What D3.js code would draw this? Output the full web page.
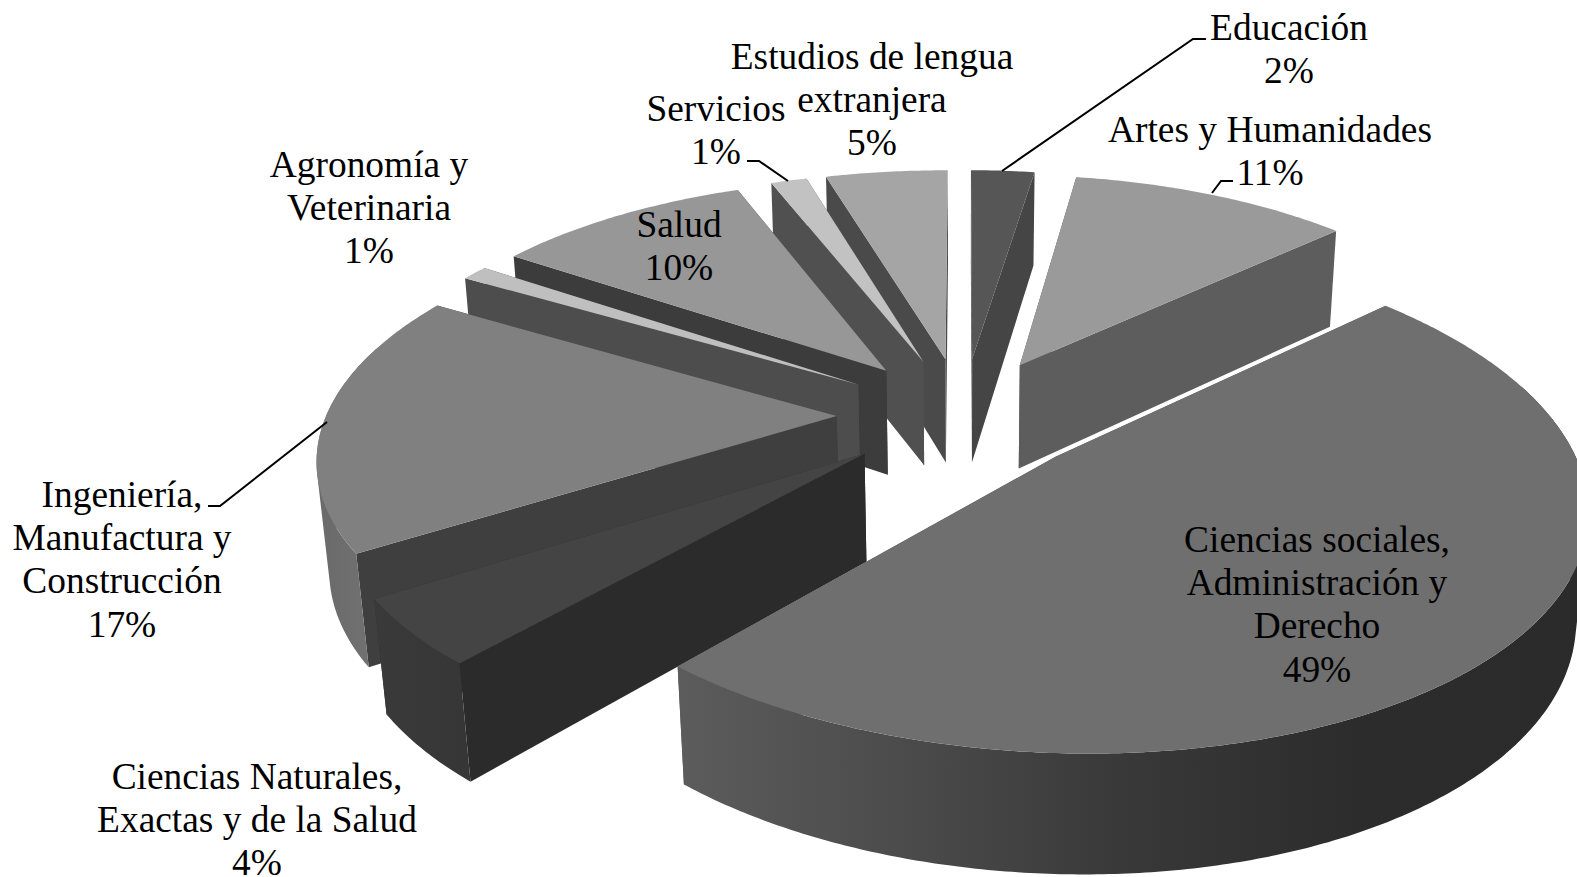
<!DOCTYPE html>
<html>
<head>
    <title>Distribución por campo de estudio</title>
    <meta charset="utf-8">
    <style>
        html, body { margin: 0; padding: 0; background: #fff; overflow: hidden; }
        svg { display: block; }
        .label { font-family: "Liberation Serif", serif; font-size: 37.4px; fill: #000; text-anchor: middle; }
        .leader { fill: none; stroke: #000; stroke-width: 2px; }
    </style>
    <script src="https://d3js.org/d3.v7.min.js"></script>
</head>
<body>
<script>
    // data, clockwise from 12 o'clock (shares, labels show them rounded)
    var categories = ["Educación", "Artes y Humanidades", "Ciencias sociales, Administración y Derecho",
        "Ciencias Naturales, Exactas y de la Salud", "Ingeniería, Manufactura y Construcción",
        "Agronomía y Veterinaria", "Salud", "Servicios", "Estudios de lengua extranjera"];
    var values = [2.4, 10.65, 48.5, 4.45, 17.42, 1, 9.63, 1.35, 4.6];

    // label text, one array per slice
    var labelLines = [
        ["Educación", "2%"],
        ["Artes y Humanidades", "11%"],
        ["Ciencias sociales,", "Administración y", "Derecho", "49%"],
        ["Ciencias Naturales,", "Exactas y de la Salud", "4%"],
        ["Ingeniería,", "Manufactura y", "Construcción", "17%"],
        ["Agronomía y", "Veterinaria", "1%"],
        ["Salud", "10%"],
        ["Servicios", "1%"],
        ["Estudios de lengua", "extranjera", "5%"]
    ];
    var labelX = [1289, 1270, 1317, 257, 122, 369, 679, 716, 872];
    var labelY = [40, 142, 552, 789, 507, 177, 237, 121, 69];

    // greys
    var topColors = ["#565656", "#9a9a9a", "#6f6f6f", "#444444", "#808080", "#bfbfbf", "#979797", "#c2c2c2", "#a5a5a5"];
    var startCutColors = ["#454545", "#5c5c5c", "#5c5c5c", "#2b2b2b", "#3f3f3f", "#4d4d4d", "#3c3c3c", "#505050", "#4a4a4a"];
    var endCutColors = ["#454545", "#5d5d5d", "#5c5c5c", "#2b2b2b", "#3f3f3f", "#4d4d4d", "#3c3c3c", "#505050", "#4a4a4a"];
    // wall shade, left to right on the screen
    var wallStops = [
        ["#444444", "#444444"],
        ["#666666", "#666666"],
        ["#5c5c5c", "#4b4b4b", "#383838", "#2c2c2c", "#2b2b2b"],
        ["#3a3a3a", "#363636"],
        ["#6a6a6a", "#737373"],
        ["#666666", "#666666"],
        ["#666666", "#666666"],
        ["#666666", "#666666"],
        ["#666666", "#666666"]
    ];
    // the big slice sits closer to the camera and its rim swells a little
    var rimBulge = [0, 0, 0.035, 0, 0, 0, 0, 0, 0];

    var width = 1577, height = 877;

    // camera for the tilted pie (radius 1, top face at z=0), yaw is a small sideways turn
    var cx = 963, cy = 415, focal = 2937, dist = 5.83, tiltSin = 0.463, tiltCos = 0.886, yaw = 0.05;
    var explode = 0.25, thick = 0.242;

    function project(X, Y, Z) {
        var w = dist + Y * tiltCos - Z * tiltSin + yaw * X;
        return [cx + focal * X / w, cy - focal * (Y * tiltSin + Z * tiltCos) / w];
    }

    var pie = d3.pie().sort(null).startAngle(0).endAngle(2 * Math.PI);
    var arcs = pie(values);

    var svg = d3.select("body").append("svg")
        .attr("width", width)
        .attr("height", height);
    var defs = svg.append("defs");

    var poly = d3.line().curve(d3.curveLinearClosed);

    // back slices get painted first
    var order = d3.range(arcs.length).sort(function(a, b) {
        var ma = (arcs[a].startAngle + arcs[a].endAngle) / 2, mb = (arcs[b].startAngle + arcs[b].endAngle) / 2;
        return Math.cos(mb) - Math.cos(ma);
    });

    order.forEach(function(i) {
        var a = arcs[i];
        var mid = (a.startAngle + a.endAngle) / 2;
        var span = a.endAngle - a.startAngle;
        var ox = explode * Math.sin(mid), oy = explode * Math.cos(mid);
        var g = svg.append("g").attr("class", "slice");

        function rim(t, z) {
            var s = Math.sin(Math.PI * (t - a.startAngle) / span);
            var r = 1 + rimBulge[i] * s * s;
            return project(ox + r * Math.sin(t), oy + r * Math.cos(t), z);
        }

        // cut faces
        [[a.startAngle, startCutColors[i]], [a.endAngle, endCutColors[i]]].forEach(function(c) {
            g.append("path")
                .attr("d", poly([project(ox, oy, 0), rim(c[0], 0), rim(c[0], -thick), project(ox, oy, -thick)]))
                .attr("fill", c[1]);
        });

        var n = Math.max(2, Math.ceil(span / 0.01));
        var angles = d3.range(n + 1).map(function(k) { return a.startAngle + span * k / n; });

        // outer wall, only the part turned towards the viewer
        // one path of many quads, all wound the same way, so no seams and a true silhouette
        var front = angles.filter(function(t) { return Math.cos(t) < 0.3; });
        if (front.length > 1) {
            var d = "", xs = [];
            d3.pairs(front).forEach(function(p) {
                var quad = [rim(p[0], 0), rim(p[1], 0), rim(p[1], -thick), rim(p[0], -thick)];
                if (d3.polygonArea(quad) < 0) quad.reverse();
                d += poly(quad);
                quad.forEach(function(q) { xs.push(q[0]); });
            });
            var ext = d3.extent(xs);
            var stops = wallStops[i];
            var grad = defs.append("linearGradient")
                .attr("id", "wall" + i)
                .attr("gradientUnits", "userSpaceOnUse")
                .attr("x1", ext[0]).attr("x2", ext[1]).attr("y1", 0).attr("y2", 0);
            stops.forEach(function(col, k) {
                grad.append("stop").attr("offset", k / (stops.length - 1)).attr("stop-color", col);
            });
            g.append("path").attr("d", d).attr("fill", "url(#wall" + i + ")");
        }

        // top face
        var pts = [project(ox, oy, 0)].concat(angles.map(function(t) { return rim(t, 0); }));
        g.append("path")
            .attr("d", poly(pts))
            .attr("fill", topColors[i]);
    });

    // leader lines
    var leaders = [
        [[1206, 39], [1193, 39], [1002, 171]],
        [[1233, 181], [1221, 181], [1212, 193]],
        [[747, 161], [759, 161], [788, 181]],
        [[208, 506], [220, 506], [327, 422]]
    ];
    svg.selectAll("path.leader").data(leaders).enter().append("path")
        .attr("class", "leader")
        .attr("d", d3.line());

    // labels
    labelLines.forEach(function(lines, i) {
        var t = svg.append("text").attr("class", "label");
        lines.forEach(function(s, k) {
            t.append("tspan")
                .attr("x", labelX[i])
                .attr("y", labelY[i] + k * 43.2)
                .text(s);
        });
    });
</script>
</body>
</html>
